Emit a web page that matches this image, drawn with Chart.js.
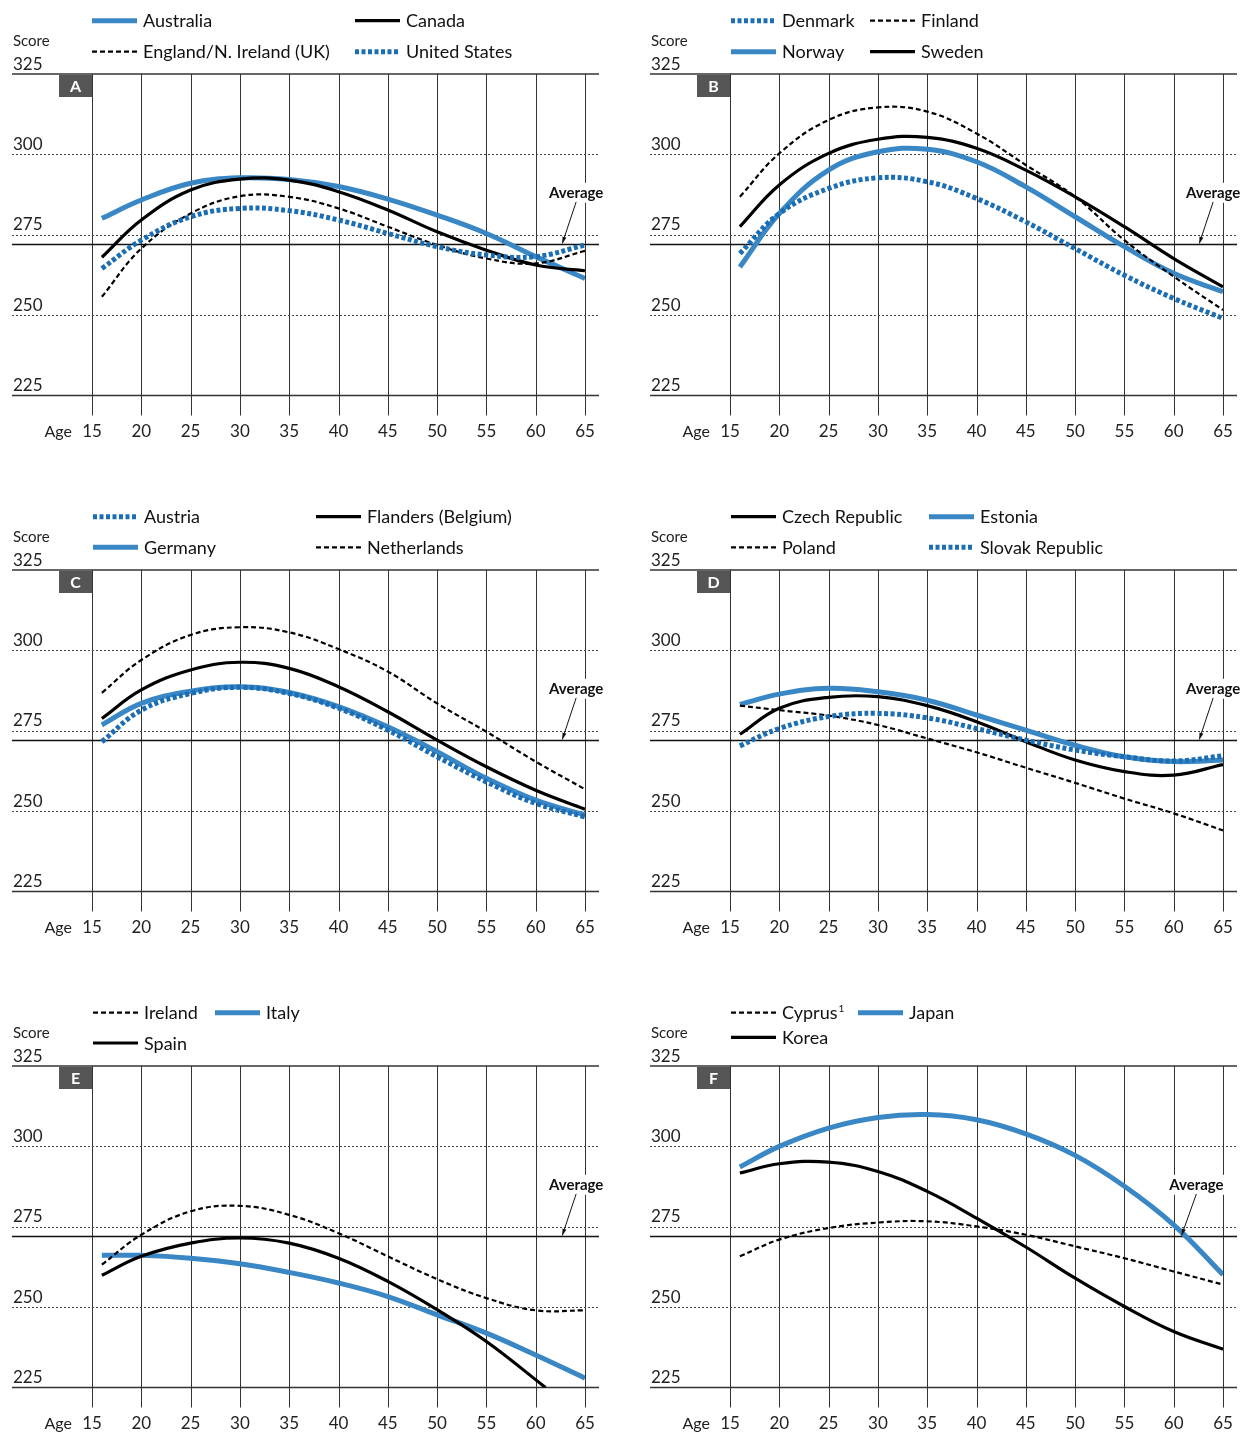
<!DOCTYPE html>
<html>
<head>
<meta charset="utf-8">
<title>Literacy proficiency by age</title>
<script src="https://cdn.jsdelivr.net/npm/chart.js@4.4.1/dist/chart.umd.min.js"></script>
<style>
  html, body { margin: 0; padding: 0; background: #fff; }
  #wrap { position: relative; width: 1242px; height: 1432px; overflow: hidden; }
  #wrap canvas { position: absolute; }
</style>
</head>
<body>
<div id="wrap"></div>
<script>
// axes
const ages = [16, 20, 25, 30, 35, 40, 45, 50, 55, 60, 65];
const ageTicks = [15, 20, 25, 30, 35, 40, 45, 50, 55, 60, 65];
const scoreTicks = [225, 250, 275, 300, 325];
const dottedTicks = [250, 275, 300];
const averageScore = 272;

// A
const australia = [280.1, 285.8, 291.0, 292.7, 292.2, 290.0, 286.1, 281.1, 275.4, 268.2, 261.4];
const canada    = [268.0, 279.6, 288.9, 292.3, 292.0, 288.4, 282.7, 275.9, 270.2, 265.6, 263.8];
const englandNI = [255.7, 270.7, 281.6, 287.0, 286.8, 283.2, 277.5, 271.8, 267.6, 266.1, 270.0];
const unitedStates = [264.5, 273.3, 280.6, 283.2, 282.5, 279.6, 275.4, 271.3, 268.7, 268.2, 271.8];
// B
const denmark = [269.2, 281.6, 289.4, 292.7, 291.5, 286.3, 279.0, 270.7, 262.4, 255.2, 249.0];
const finland = [286.8, 300.3, 310.7, 314.6, 313.3, 306.5, 296.7, 286.8, 273.3, 262.0, 251.6];
const norway  = [265.0, 281.6, 295.1, 300.8, 301.6, 297.7, 289.9, 280.6, 271.3, 263.0, 257.3];
const sweden  = [277.5, 290.5, 300.3, 304.7, 305.3, 301.9, 295.1, 286.8, 277.5, 267.6, 258.8];
// C
const austria  = [271.6, 281.4, 286.6, 288.5, 286.6, 282.0, 275.2, 266.9, 259.1, 252.4, 248.2];
const flanders = [278.8, 287.7, 293.9, 296.3, 294.4, 288.7, 280.9, 272.1, 263.8, 256.5, 250.6];
const germany  = [276.8, 283.5, 287.3, 288.7, 286.9, 282.5, 276.2, 268.5, 260.2, 253.4, 248.8];
const netherlands = [286.8, 297.0, 304.8, 307.2, 305.6, 300.4, 293.4, 283.5, 274.7, 265.4, 256.8];
// D
const czechRepublic = [273.9, 282.0, 285.4, 285.6, 282.8, 277.8, 271.6, 265.9, 262.3, 261.2, 264.5];
const estonia = [283.2, 286.4, 288.2, 287.1, 284.5, 279.9, 275.2, 270.5, 266.9, 265.4, 265.9];
const poland  = [282.8, 281.4, 279.7, 276.8, 272.6, 268.3, 263.5, 258.8, 253.9, 249.3, 244.0];
const slovakRepublic = [270.3, 275.7, 279.4, 280.4, 279.0, 275.7, 272.1, 269.0, 266.9, 265.6, 267.2];
// E
const ireland = [263.2, 272.5, 279.8, 281.5, 278.7, 273.0, 265.8, 258.7, 252.8, 249.0, 249.0];
const italy   = [266.1, 266.1, 265.2, 263.5, 260.8, 257.5, 253.3, 247.6, 241.9, 235.1, 227.9];
const spainAges = [16, 20, 25, 30, 35, 40, 45, 50, 55, 61];
const spain   = [259.9, 265.8, 269.9, 271.5, 269.9, 265.2, 258.0, 249.2, 239.3, 225.0];
// F
const cyprus = [265.8, 271.0, 274.6, 276.3, 276.7, 275.1, 272.5, 268.9, 265.2, 261.1, 257.0];
const japan  = [293.6, 300.0, 305.7, 309.0, 309.9, 308.3, 303.9, 297.2, 287.6, 275.6, 260.1];
const korea  = [291.7, 294.6, 295.1, 292.2, 286.0, 277.7, 268.7, 259.0, 250.2, 242.4, 236.9];

const FONT = 'Lato, "Open Sans", sans-serif';
const styles = {
  blue:   { color: '#3a87c6', width: 5, dash: [], order: 3 },
  dotted: { color: '#1b6db4', width: 5, dash: [4, 2.5], order: 0 },
  black:  { color: '#000000', width: 3.2, dash: [], order: 2 },
  dashed: { color: '#000000', width: 2.2, dash: [5, 3], order: 1 }
};

const panels = [
  { letter: 'A', col: 0, row: 0, legendX: [92, 355], legendY: [20.7, 51.7], note: [64.1, 62.7],
    series: [
      { label: 'Australia', x: ages, y: australia, style: 'blue', at: [0, 0] },
      { label: 'Canada', x: ages, y: canada, style: 'black', at: [1, 0] },
      { label: 'England/N. Ireland (UK)', x: ages, y: englandNI, style: 'dashed', at: [0, 1] },
      { label: 'United States', x: ages, y: unitedStates, style: 'dotted', at: [1, 1] }
    ] },
  { letter: 'B', col: 1, row: 0, legendX: [93, 232], legendY: [20.7, 51.7], note: [64.0, 62.6],
    series: [
      { label: 'Denmark', x: ages, y: denmark, style: 'dotted', at: [0, 0] },
      { label: 'Finland', x: ages, y: finland, style: 'dashed', at: [1, 0] },
      { label: 'Norway', x: ages, y: norway, style: 'blue', at: [0, 1] },
      { label: 'Sweden', x: ages, y: sweden, style: 'black', at: [1, 1] }
    ] },
  { letter: 'C', col: 0, row: 1, legendX: [93, 316], legendY: [20.7, 51.3], note: [64.1, 62.7],
    series: [
      { label: 'Austria', x: ages, y: austria, style: 'dotted', at: [0, 0] },
      { label: 'Flanders (Belgium)', x: ages, y: flanders, style: 'black', at: [1, 0] },
      { label: 'Germany', x: ages, y: germany, style: 'blue', at: [0, 1] },
      { label: 'Netherlands', x: ages, y: netherlands, style: 'dashed', at: [1, 1] }
    ] },
  { letter: 'D', col: 1, row: 1, legendX: [93, 291], legendY: [20.7, 51.3], note: [64.0, 62.6],
    series: [
      { label: 'Czech Republic', x: ages, y: czechRepublic, style: 'black', at: [0, 0] },
      { label: 'Estonia', x: ages, y: estonia, style: 'blue', at: [1, 0] },
      { label: 'Poland', x: ages, y: poland, style: 'dashed', at: [0, 1] },
      { label: 'Slovak Republic', x: ages, y: slovakRepublic, style: 'dotted', at: [1, 1] }
    ] },
  { letter: 'E', col: 0, row: 2, legendX: [93, 215], legendY: [20.7, 51], note: [64.1, 62.7],
    series: [
      { label: 'Ireland', x: ages, y: ireland, style: 'dashed', at: [0, 0] },
      { label: 'Italy', x: ages, y: italy, style: 'blue', at: [1, 0] },
      { label: 'Spain', x: spainAges, y: spain, style: 'black', at: [0, 1] }
    ] },
  { letter: 'F', col: 1, row: 2, legendX: [93, 220], legendY: [20.7, 45.3], note: [62.3, 60.8],
    series: [
      { label: 'Cyprus', sup: '1', x: ages, y: cyprus, style: 'dashed', at: [0, 0] },
      { label: 'Japan', x: ages, y: japan, style: 'blue', at: [1, 0] },
      { label: 'Korea', x: ages, y: korea, style: 'black', at: [0, 1] }
    ] }
];

const W = 604, H = 440;

function strokeStyled(ctx, st, draw) {
  ctx.save();
  ctx.strokeStyle = st.color;
  ctx.lineWidth = st.width;
  ctx.setLineDash(st.dash);
  ctx.lineCap = 'butt';
  ctx.beginPath();
  draw();
  ctx.stroke();
  ctx.restore();
}

// frame, grid lines, tick labels (under the curves)
const frame = {
  id: 'frame',
  beforeDatasetsDraw(chart) {
    const { ctx, chartArea: a, scales: { x, y } } = chart;
    const left = 12, right = 599;
    ctx.save();
    ctx.lineWidth = 1;
    ctx.strokeStyle = '#333';
    ageTicks.forEach(t => {
      const px = Math.round(x.getPixelForValue(t)) + 0.5;
      ctx.beginPath();
      ctx.moveTo(px, a.top);
      ctx.lineTo(px, a.bottom + 20);
      ctx.stroke();
    });
    ctx.strokeStyle = '#444';
    ctx.setLineDash([2, 2]);
    dottedTicks.forEach(t => {
      const py = Math.round(y.getPixelForValue(t)) + 0.5;
      ctx.beginPath();
      ctx.moveTo(left, py);
      ctx.lineTo(right, py);
      ctx.stroke();
    });
    ctx.setLineDash([]);
    ctx.lineWidth = 1.5;
    ctx.strokeStyle = '#333';
    [225, 325].forEach(t => {
      const py = y.getPixelForValue(t);
      ctx.beginPath();
      ctx.moveTo(left, py);
      ctx.lineTo(right, py);
      ctx.stroke();
    });
    ctx.strokeStyle = '#111';
    const avg = y.getPixelForValue(averageScore);
    ctx.beginPath();
    ctx.moveTo(left, avg);
    ctx.lineTo(right, avg);
    ctx.stroke();

    ctx.fillStyle = '#222';
    ctx.font = '17px ' + FONT;
    ctx.textAlign = 'left';
    ctx.textBaseline = 'alphabetic';
    scoreTicks.forEach(t => ctx.fillText(String(t), 13, y.getPixelForValue(t) - 4.5));
    ctx.font = '15px ' + FONT;
    ctx.fillText('Score', 13, a.top - 28);
    ctx.font = '17px ' + FONT;
    ctx.textAlign = 'center';
    ageTicks.forEach(t => ctx.fillText(String(t), x.getPixelForValue(t), a.bottom + 41.5));
    ctx.textAlign = 'right';
    ctx.font = '16px ' + FONT;
    ctx.fillText('Age', x.getPixelForValue(15) - 20, a.bottom + 41.5);
    ctx.restore();
  },
  afterDatasetsDraw(chart, args, opts) {
    const { ctx, chartArea: a, scales: { x, y } } = chart;
    const p = opts.panel;
    ctx.save();
    // panel letter
    ctx.fillStyle = '#555';
    ctx.fillRect(a.left - 33, a.top + 1, 33, 22);
    ctx.fillStyle = '#fff';
    ctx.font = 'bold 16px ' + FONT;
    ctx.textAlign = 'center';
    ctx.textBaseline = 'middle';
    ctx.fillText(p.letter, a.left - 16.5, a.top + 12.5);

    // "Average" callout
    const tx = x.getPixelForValue(p.note[0]);
    const ty = y.getPixelForValue(286.5);
    ctx.font = 'bold 15px ' + FONT;
    ctx.textBaseline = 'alphabetic';
    const tw = ctx.measureText('Average').width;
    ctx.fillStyle = '#fff';
    ctx.fillRect(tx - tw / 2 - 2, ty - 15, tw + 4, 20);
    ctx.fillStyle = '#111';
    ctx.fillText('Average', tx, ty);
    const x0 = tx, y0 = y.getPixelForValue(285.2);
    const x1 = x.getPixelForValue(p.note[1]), y1 = y.getPixelForValue(averageScore) - 1;
    ctx.strokeStyle = '#111';
    ctx.lineWidth = 1;
    ctx.beginPath();
    ctx.moveTo(x0, y0);
    ctx.lineTo(x1, y1);
    ctx.stroke();
    const ang = Math.atan2(y1 - y0, x1 - x0);
    ctx.beginPath();
    ctx.moveTo(x1, y1);
    ctx.lineTo(x1 - 7 * Math.cos(ang - 0.3), y1 - 7 * Math.sin(ang - 0.3));
    ctx.lineTo(x1 - 7 * Math.cos(ang + 0.3), y1 - 7 * Math.sin(ang + 0.3));
    ctx.closePath();
    ctx.fillStyle = '#111';
    ctx.fill();

    // legend
    p.series.forEach(s => {
      const st = styles[s.style];
      const lx = p.legendX[s.at[0]], ly = p.legendY[s.at[1]];
      strokeStyled(ctx, st, () => { ctx.moveTo(lx, ly); ctx.lineTo(lx + 45, ly); });
      ctx.fillStyle = '#111';
      ctx.font = '18px ' + FONT;
      ctx.textAlign = 'left';
      ctx.textBaseline = 'alphabetic';
      ctx.fillText(s.label, lx + 51, ly + 6.5);
      if (s.sup) {
        const w = ctx.measureText(s.label).width;
        ctx.font = '10px ' + FONT;
        ctx.fillText(s.sup, lx + 52 + w, ly - 1);
      }
    });
    ctx.restore();
  }
};

const wrap = document.getElementById('wrap');
panels.forEach(p => {
  const canvas = document.createElement('canvas');
  canvas.width = W;
  canvas.height = H;
  canvas.style.left = (p.col * 638) + 'px';
  canvas.style.top = (p.row * 496) + 'px';
  canvas.style.width = W + 'px';
  canvas.style.height = H + 'px';
  wrap.appendChild(canvas);

  const datasets = p.series.map(s => {
    const st = styles[s.style];
    return {
      label: s.label,
      data: s.x.map((a, i) => ({ x: a, y: s.y[i] })),
      borderColor: st.color,
      borderWidth: st.width,
      borderDash: st.dash,
      borderCapStyle: 'butt',
      order: st.order,
      fill: false,
      pointRadius: 0,
      tension: 0.4
    };
  });

  new Chart(canvas, {
    type: 'line',
    data: { datasets },
    options: {
      responsive: false,
      animation: false,
      events: [],
      devicePixelRatio: 1,
      layout: { padding: { left: 92, right: 19, top: 74, bottom: 44.5 } },
      scales: {
        x: { type: 'linear', min: 15, max: 65, display: false },
        y: { type: 'linear', min: 225, max: 325, display: false }
      },
      plugins: {
        legend: { display: false },
        tooltip: { enabled: false },
        frame: { panel: p }
      }
    },
    plugins: [frame]
  });
});
</script>
</body>
</html>
